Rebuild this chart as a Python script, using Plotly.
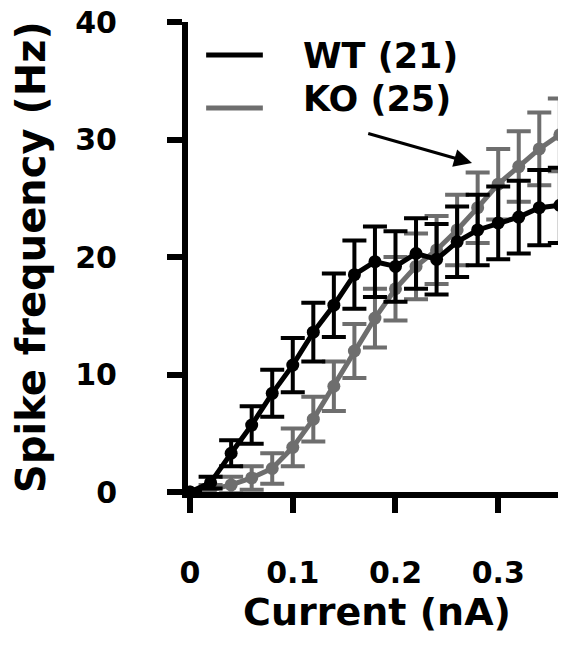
import plotly.graph_objects as go

# current steps (nA) and mean spike frequency (Hz) +/- SEM
current = [0, 0.02, 0.04, 0.06, 0.08, 0.10, 0.12, 0.14, 0.16, 0.18,
           0.20, 0.22, 0.24, 0.26, 0.28, 0.30, 0.32, 0.34, 0.36]
wt_freq = [0, 0.8, 3.3, 5.7, 8.4, 10.8, 13.6, 15.9, 18.5, 19.6,
           19.2, 20.3, 19.8, 21.3, 22.3, 22.9, 23.4, 24.2, 24.4]
wt_sem = [0, 0.5, 1.1, 1.6, 2.0, 2.3, 2.5, 2.7, 2.9, 3.0,
          3.0, 3.0, 3.0, 3.0, 3.0, 3.1, 3.1, 3.2, 3.2]
ko_freq = [0, 0.2, 0.6, 1.2, 2.0, 3.8, 6.2, 9.0, 12.0, 14.8,
           17.3, 19.2, 20.6, 22.3, 24.2, 26.2, 27.7, 29.2, 30.4]
ko_sem = [0, 0.4, 0.7, 1.0, 1.3, 1.6, 1.9, 2.1, 2.3, 2.5,
          2.7, 2.8, 2.9, 3.0, 3.0, 3.0, 3.0, 3.1, 3.1]

x_ticks = [0, 0.1, 0.2, 0.3]
x_ticklabels = ['0', '0.1', '0.2', '0.3']
y_ticks = [0, 10, 20, 30, 40]

legend_names = ['WT (21)', 'KO (25)']

WT_COLOR = 'black'
KO_COLOR = '#6e6e6e'
FONT = 'DejaVu Sans'

fig = go.Figure()
fig.add_trace(go.Scatter(x=current, y=ko_freq, mode='lines+markers',
                         line=dict(color=KO_COLOR, width=5),
                         marker=dict(color=KO_COLOR, size=13),
                         error_y=dict(type='data', array=ko_sem, color=KO_COLOR,
                                      thickness=4, width=12),
                         cliponaxis=False, showlegend=False))
fig.add_trace(go.Scatter(x=current, y=wt_freq, mode='lines+markers',
                         line=dict(color=WT_COLOR, width=5),
                         marker=dict(color=WT_COLOR, size=13),
                         error_y=dict(type='data', array=wt_sem, color=WT_COLOR,
                                      thickness=4, width=12),
                         cliponaxis=False, showlegend=False))

# hand drawn legend
for i, (name, col) in enumerate(zip(legend_names, [WT_COLOR, KO_COLOR])):
    ly = [0.930, 0.817][i]
    fig.add_shape(type='line', xref='paper', yref='paper',
                  x0=0.048, x1=0.198, y0=ly, y1=ly,
                  line=dict(color=col, width=5))
    fig.add_annotation(x=0.30, y=[0.928, 0.836][i], xref='paper', yref='paper',
                       text=name, showarrow=False, xanchor='left', yanchor='middle',
                       font=dict(family=FONT, size=35, color='black', weight='bold'))

# arrow pointing to KO curve
fig.add_annotation(x=0.2745, y=28.0, ax=0.172, ay=30.55,
                   xref='x', yref='y', axref='x', ayref='y',
                   text='', showarrow=True, arrowhead=2, arrowsize=1.2,
                   arrowwidth=3, arrowcolor='black')

fig.update_xaxes(range=[-0.002, 0.366], tickvals=x_ticks, ticktext=x_ticklabels,
                 showline=True, linewidth=6, linecolor='black',
                 ticks='outside', ticklen=15, tickwidth=6, tickcolor='black',
                 showgrid=False, zeroline=False, ticklabelstandoff=34,
                 ticklabeloverflow='allow', automargin=False,
                 tickfont=dict(family=FONT, size=30, color='black', weight='bold'),
                 title=dict(text='Current (nA)', standoff=8,
                            font=dict(family=FONT, size=38, color='black', weight='bold')))
fig.update_yaxes(range=[0, 40], tickvals=y_ticks,
                 showline=True, linewidth=6, linecolor='black',
                 ticks='outside', ticklen=15, tickwidth=6, tickcolor='black',
                 showgrid=False, zeroline=False, ticklabelstandoff=44,
                 ticklabeloverflow='allow', automargin=False,
                 tickfont=dict(family=FONT, size=30, color='black', weight='bold'),
                 title=dict(text='Spike frequency (Hz)', standoff=30,
                            font=dict(family=FONT, size=40, color='black', weight='bold')))

# page body adds an 8px offset, so margins are shifted to compensate
fig.update_layout(width=566, height=646,
                  margin=dict(l=180, r=8, t=14, b=162),
                  plot_bgcolor='white', paper_bgcolor='white')

fig.write_html("out.html")
